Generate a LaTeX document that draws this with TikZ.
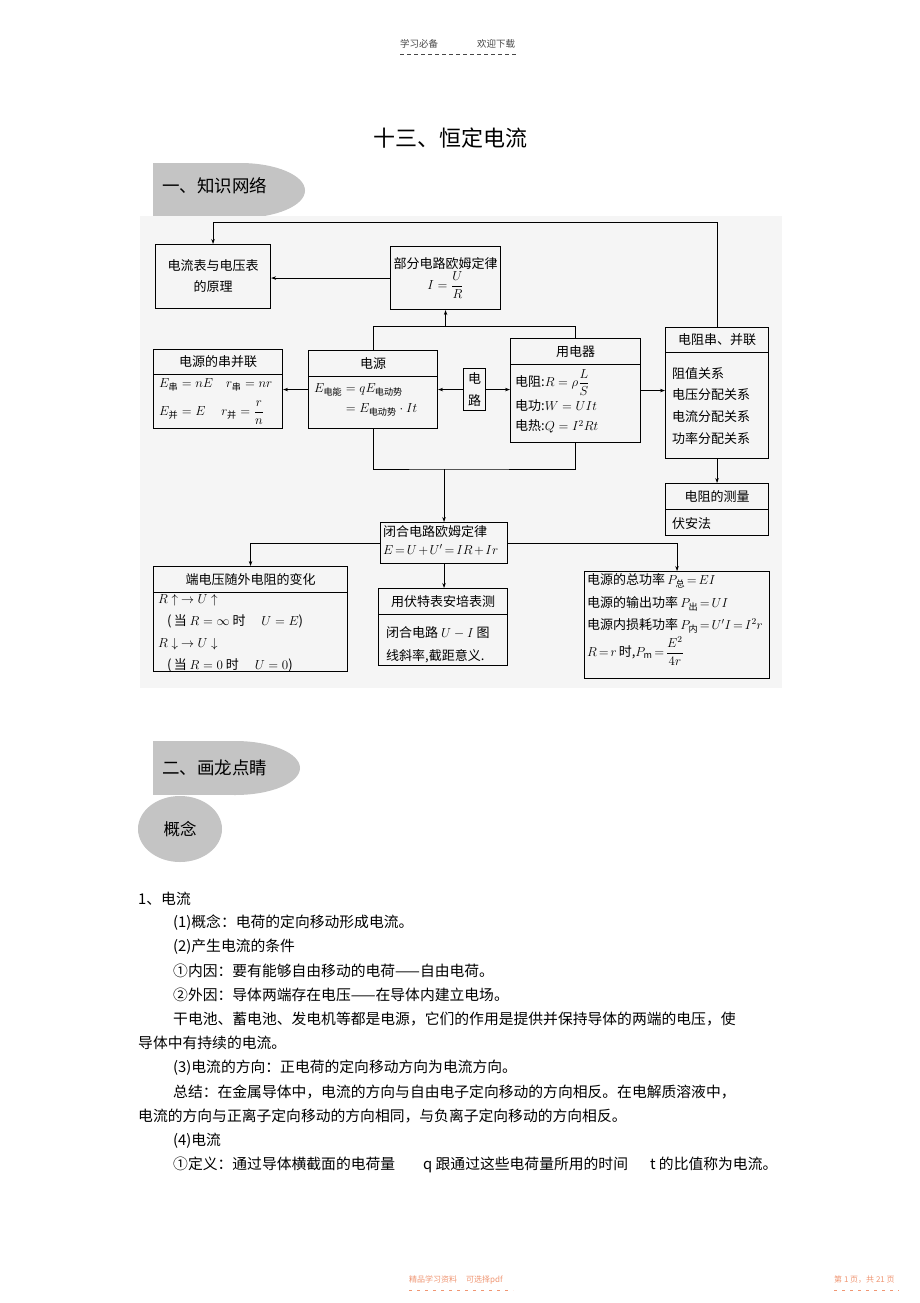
\RequirePackage{fix-cm}
\documentclass[tikz,border=0pt]{standalone}
\usepackage{amsmath}
\usepackage{fontspec}
\setmainfont{Noto Sans CJK SC}
\usetikzlibrary{positioning,arrows.meta,shapes.geometric}
\definecolor{bandgray}{RGB}{196,196,196}
\definecolor{footorange}{RGB}{240,150,115}
\definecolor{headgray}{RGB}{70,70,70}
\newcommand{\dgfont}{\fontsize{13}{15}\selectfont}
\newcommand{\dglist}{\fontsize{13}{21.7}\selectfont}
\newcommand{\parafont}{\fontsize{14.8}{18}\selectfont}
\newcommand{\tightmath}{\thickmuskip=2.5mu\medmuskip=2mu}

\begin{document}
\begin{tikzpicture}[x=1pt,y=-1pt]
	\tikzstyle{boxframe}=[draw, line width=1.1pt, anchor=north west, inner sep=0pt, font=\dgfont, align=center]
	\tikzstyle{boxhead}=[draw, line width=1.1pt, anchor=north, inner sep=0pt, font=\dgfont]
	\tikzstyle{boxbody}=[anchor=north west, inner sep=0pt, align=left, font=\dgfont]
	\tikzstyle{link}=[line width=0.8pt]
	\tikzstyle{arr}=[link, -{Stealth[length=5pt,width=3.5pt]}]
	\tikzstyle{para}=[anchor=west, inner sep=0pt, font=\parafont]
	\tikzstyle{band}=[fill=bandgray, draw=none]
	\tikzstyle{small}=[anchor=west, inner sep=0pt, font=\fontsize{9.5}{11}\selectfont]
	\tikzstyle{dashrule}=[line width=0.8pt, dash pattern=on 4pt off 3pt]

	\fill[white] (0,0) rectangle (920,1303);
	\useasboundingbox (0,0) rectangle (920,1303);

	% page header
	\node[small, text=headgray] (hdl) at (400,44) {学习必备};
	\node[small, text=headgray] (hdr) at (477,44) {欢迎下载};
	\draw[dashrule, headgray] (400,54) -- (518,54);

	\node[font=\fontsize{22}{24}\selectfont] (title) at (450,138) {十三、恒定电流};

	% section 1
	\fill[band] (153,163) rectangle (240,218);
	\fill[band] (240,190.5) ellipse [x radius=65pt, y radius=27.5pt];
	\node[anchor=west, inner sep=0pt, font=\fontsize{17.5}{20}\selectfont] (sec1) at (162,186) {一、知识网络};
	\fill[gray!8] (140,216) rectangle (782,688);

	% upper row
	\node[boxframe, minimum width=115pt, minimum height=64pt] (meter) at (155,244) {电流表与电压表\\[6pt]的原理};
	\node[boxframe, minimum width=110pt, minimum height=63pt] (ohm) at (390,246) {部分电路欧姆定律\\[1pt]$I=\dfrac{U}{R}$};

	% middle row
	\node[boxframe, minimum width=129pt, minimum height=79pt] (pack) at (153,349) {};
	\node[boxhead, minimum width=129pt, minimum height=25pt] (pack-h) at (pack.north) {电源的串并联};
	\node[boxbody] (pack-b) at ([shift={(6,3)}]pack-h.south west) {$E_{\text{串}}=nE\quad r_{\text{串}}=nr$\\[9pt]$E_{\text{并}}=E\quad\ r_{\text{并}}=\dfrac{r}{n}$};

	\node[boxframe, minimum width=129pt, minimum height=78pt] (src) at (308,350) {};
	\node[boxhead, minimum width=129pt, minimum height=26pt] (src-h) at (src.north) {电源};
	\node[boxbody] (src-b) at ([shift={(6,6)}]src-h.south west) {$E_{\text{电能}}=qE_{\text{电动势}}$\\[5pt]$\phantom{E_{\text{电能}}}=E_{\text{电动势}}\cdot It$};

	\node[boxframe, minimum width=22pt, minimum height=42pt] (circ) at (463,368) {电\\[7pt]路};

	\node[boxframe, minimum width=130pt, minimum height=104pt] (load) at (510,338) {};
	\node[boxhead, minimum width=130pt, minimum height=26pt] (load-h) at (load.north) {用电器};
	\node[boxbody] (load-b) at ([shift={(5,4)}]load-h.south west) {电阻:$R=\rho\dfrac{L}{S}$\\[3pt]电功:$W=UIt$\\[5pt]电热:$Q=I^2Rt$};

	\node[boxframe, minimum width=103pt, minimum height=131pt] (net) at (665,327) {};
	\node[boxhead, minimum width=103pt, minimum height=25pt] (net-h) at (net.north) {电阻串、并联};
	\node[boxbody, font=\dglist] (net-b) at ([shift={(7,14)}]net-h.south west) {阻值关系\\电压分配关系\\电流分配关系\\功率分配关系};

	\node[boxframe, minimum width=103pt, minimum height=52pt] (meas) at (665,483) {};
	\node[boxhead, minimum width=103pt, minimum height=26pt] (meas-h) at (meas.north) {电阻的测量};
	\node[boxbody] (meas-b) at ([shift={(7,7)}]meas-h.south west) {伏安法};

	% lower row
	\node[boxframe, minimum width=127pt, minimum height=41pt] (loop) at (380,522) {};
	\node[boxbody] (loop-b) at ([shift={(3,3)}]loop.north west) {闭合电路欧姆定律\\[3pt]$\tightmath E=U+U'=IR+Ir$};

	\node[boxframe, minimum width=194pt, minimum height=105pt] (term) at (153,566) {};
	\node[boxhead, minimum width=194pt, minimum height=26pt] (term-h) at (term.north) {端电压随外电阻的变化};
	\node[boxbody, font=\fontsize{13}{22}\selectfont] (term-b) at ([shift={(5,1)}]term-h.south west) {$R\uparrow\ \rightarrow U\uparrow$\\\hspace*{9pt}(\,当 $R=\infty$ 时\quad\ $U=E$)\\$R\downarrow\ \rightarrow U\downarrow$\\\hspace*{9pt}(\,当 $R=0$ 时\quad\ $U=0$)};

	\node[boxframe, minimum width=129pt, minimum height=77pt] (uim) at (378,588) {};
	\node[boxhead, minimum width=129pt, minimum height=26pt] (uim-h) at (uim.north) {用伏特表安培表测};
	\node[boxbody, font=\fontsize{13}{23}\selectfont] (uim-b) at ([shift={(8,11)}]uim-h.south west) {闭合电路 $U-I$ 图\\线斜率,截距意义.};

	\node[boxframe, minimum width=185pt, minimum height=107pt] (pow) at (584,571) {};
	\node[boxbody] (pow-b) at ([shift={(3,2)}]pow.north west) {电源的总功率\,$\tightmath P_{\text{总}}=EI$\\[8pt]电源的输出功率\,$\tightmath P_{\text{出}}=UI$\\[7pt]电源内损耗功率\,$\tightmath P_{\text{内}}=U'I=I^2r$\\[3pt]$\tightmath R=r$\,时,$\tightmath P_{\text{m}}=\dfrac{E^2}{4r}$};

	% connectors
	\coordinate (rail) at (0,222);
	\path (ohm.south) ++(0,16) coordinate (feed);
	\path (loop.north) ++(0,-53) coordinate (sink);
	\draw[arr] (net.north) -- (net.north |- rail) -| (meter.north);
	\draw[arr] (ohm.west) -- (ohm.west -| meter.east);
	\draw[link] (src.north) |- (feed) -| (load.north);
	\draw[arr] (feed) -- (ohm.south);
	\draw[arr] (src.west) -- (src.west -| pack.east);
	\draw[arr] (circ.west) -- (circ.west -| src.east);
	\draw[arr] (circ.east) -- (circ.east -| load.west);
	\draw[arr] (load.east) -- (load.east -| net.west);
	\draw[arr] (net.south) -- (meas.north);
	\draw[link] (src.south) |- (sink) -| (load.south);
	\draw[arr] (sink) -- (loop.north);
	\draw[arr] (loop.west) -| (term.north);
	\draw[arr] (loop.east) -| (pow.north);
	\draw[arr] (loop.south) -- (loop.south |- uim.north);

	% section 2
	\fill[band] (153,741) rectangle (235,795);
	\fill[band] (235,768) ellipse [x radius=65pt, y radius=27pt];
	\node[anchor=west, inner sep=0pt, font=\fontsize{17.5}{20}\selectfont] (sec2) at (162,768) {二、画龙点睛};
	\node[ellipse, fill=bandgray, minimum width=84pt, minimum height=66pt, inner sep=0pt, font=\fontsize{16.5}{18}\selectfont] (idea) at (180,829) {概念};

	% text
	\node[para] (p1) at (138,899) {1、电流};
	\node[para] (p2) at (173,923) {(1)概念：电荷的定向移动形成电流。};
	\node[para] (p3) at (173,947) {(2)产生电流的条件};
	\node[para] (p4) at (173,971) {①内因：要有能够自由移动的电荷——自由电荷。};
	\node[para] (p5) at (173,995) {②外因：导体两端存在电压——在导体内建立电场。};
	\node[para] (p6) at (173,1019) {干电池、蓄电池、发电机等都是电源，它们的作用是提供并保持导体的两端的电压，使};
	\node[para] (p7) at (138,1043) {导体中有持续的电流。};
	\node[para] (p8) at (173,1068) {(3)电流的方向：正电荷的定向移动方向为电流方向。};
	\node[para] (p9) at (173,1092) {总结：在金属导体中，电流的方向与自由电子定向移动的方向相反。在电解质溶液中，};
	\node[para] (p10) at (138,1116) {电流的方向与正离子定向移动的方向相同，与负离子定向移动的方向相反。};
	\node[para] (p11) at (173,1141) {(4)电流};
	\node[para] (p12) at (173,1165) {①定义：通过导体横截面的电荷量\hspace{28pt}q 跟通过这些电荷量所用的时间\hspace{22pt}t 的比值称为电流。};

	% page footer
	\node[small, font=\fontsize{8}{9}\selectfont, text=footorange] (ftl) at (409,1280) {精品学习资料\hspace{9pt}可选择pdf};
	\node[small, font=\fontsize{8}{9}\selectfont, text=footorange] (ftr) at (834,1280) {第 1 页，共 21 页};
	\draw[dashrule, footorange, dash pattern=on 3pt off 5pt] (409,1290) -- (513,1290);
	\draw[dashrule, footorange, dash pattern=on 3pt off 5pt] (834,1290) -- (899,1290);
\end{tikzpicture}
\end{document}
